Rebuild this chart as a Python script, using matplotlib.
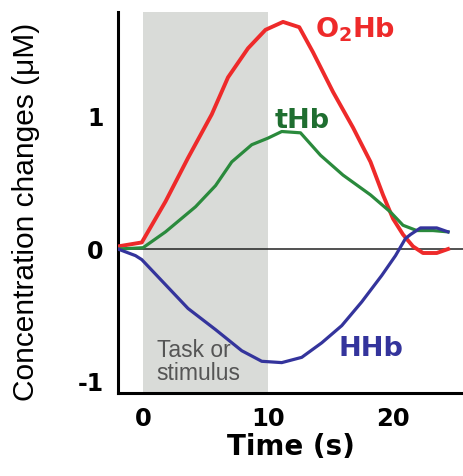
import matplotlib.pyplot as plt
import numpy as np

# Time (s) and concentration change (uM) for each chromophore
O2HB_T = [-2.0, -0.1, 1.8, 3.6, 5.5, 6.8, 8.4, 9.8, 11.2, 12.5, 13.6, 15.2, 16.8, 18.2, 19.2, 20.0, 20.8, 21.6, 22.4, 23.5, 24.4]
O2HB_V = [0.02, 0.05, 0.36, 0.69, 1.02, 1.30, 1.52, 1.66, 1.72, 1.68, 1.49, 1.19, 0.92, 0.66, 0.41, 0.23, 0.11, 0.02, -0.03, -0.03, 0.0]

THB_T = [-2.0, 0.0, 1.8, 4.2, 5.8, 7.1, 8.7, 10.0, 11.1, 12.6, 14.2, 16.0, 18.2, 19.8, 20.8, 21.9, 23.2, 24.4]
THB_V = [0.0, 0.01, 0.13, 0.32, 0.48, 0.66, 0.79, 0.84, 0.89, 0.88, 0.71, 0.56, 0.41, 0.28, 0.18, 0.14, 0.14, 0.13]

HHB_T = [-2.0, -0.6, -0.1, 1.8, 3.6, 5.8, 7.9, 9.5, 11.1, 12.7, 14.3, 15.9, 17.5, 19.1, 20.2, 21.0, 21.4, 22.2, 23.5, 24.4]
HHB_V = [0.0, -0.05, -0.08, -0.27, -0.45, -0.61, -0.77, -0.85, -0.86, -0.82, -0.71, -0.58, -0.40, -0.20, -0.05, 0.08, 0.11, 0.16, 0.16, 0.13]

STIM_START, STIM_END = 0, 10
X_TICKS = [0, 10, 20]
Y_TICKS = [-1, 0, 1]
Y_TICK_LABELS = ["-1", "0", "1"]

RED = "#ee2a2a"
GREEN = "#2a8a3c"
BLUE = "#34349c"
SHADE = "#d9dbd8"

plt.rcParams["mathtext.fontset"] = "dejavusans"

fig = plt.figure(figsize=(4.63, 4.76), dpi=100)
ax = fig.add_axes([0.2549, 0.1744, 0.7451, 0.8004])

ax.axvspan(STIM_START, STIM_END, color=SHADE, lw=0, zorder=0)
ax.axhline(0, color="#222222", lw=1.1, zorder=1)

ax.plot(O2HB_T, O2HB_V, color=RED, lw=2.8, zorder=3)
ax.plot(THB_T, THB_V, color=GREEN, lw=2.3, zorder=3)
ax.plot(HHB_T, HHB_V, color=BLUE, lw=2.3, zorder=3)

ax.set_xlim(-2, 25.6)
ax.set_ylim(-1.09, 1.795)

for side in ("top", "right"):
    ax.spines[side].set_visible(False)
for side in ("left", "bottom"):
    ax.spines[side].set_linewidth(2.2)
    ax.spines[side].set_color("black")

ax.set_xticks(X_TICKS)
ax.set_xticklabels([str(t) for t in X_TICKS], fontsize=17.5, fontweight="bold", family="DejaVu Sans")
ax.set_yticks(Y_TICKS)
ax.set_yticklabels(Y_TICK_LABELS, fontsize=17, fontweight="bold", family="DejaVu Sans")
ax.tick_params(axis="both", length=0)
ax.tick_params(axis="x", pad=10)
ax.tick_params(axis="y", pad=10.5)

# curve labels
ax.text(13.76, 1.60, r"O$_\mathbf{2}$Hb", color=RED, fontsize=19.5, fontweight="bold",
        ha="left", va="baseline")
ax.text(10.56, 0.92, "tHb", color="#1f6e30", fontsize=19.5, fontweight="bold",
        ha="left", va="baseline")
ax.text(15.6, -0.81, "HHb", color=BLUE, fontsize=19.5, fontweight="bold",
        ha="left", va="baseline")
ax.text(1.1, -0.99, "Task or\nstimulus", color="#555555", fontsize=16.5,
        family="Liberation Sans", ha="left", va="baseline", linespacing=1.0)

fig.text(291 / 463, (476 - 455) / 476, "Time (s)", fontsize=20, fontweight="bold",
         ha="center", va="baseline")
fig.text(26 / 463, (476 - 212) / 476, "Concentration changes (\u03bcM)", fontsize=21.5,
         family="Liberation Sans", rotation=90, ha="center", va="center")

fig.savefig("out.png", dpi=100)
plt.close(fig)
